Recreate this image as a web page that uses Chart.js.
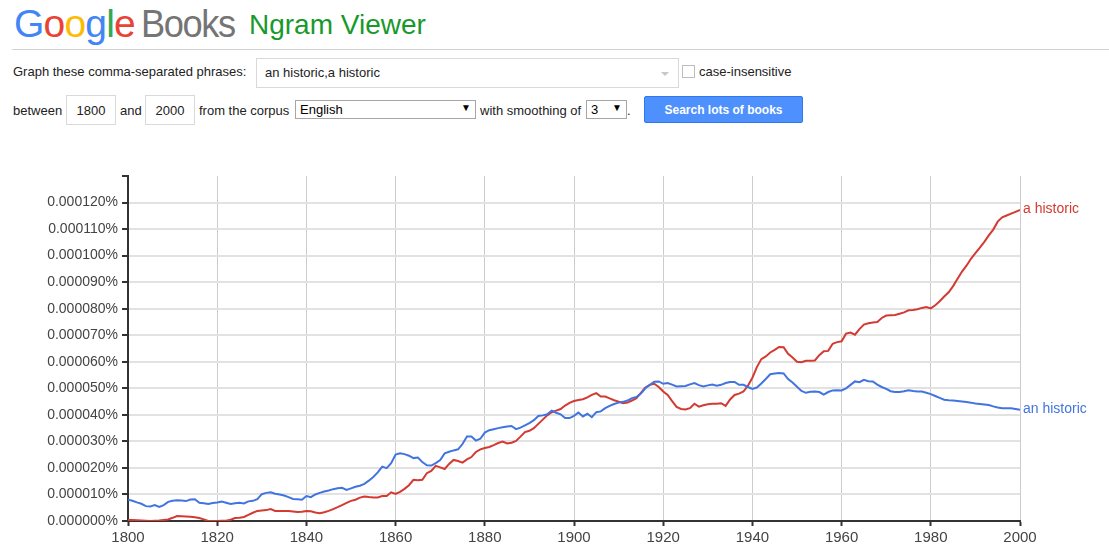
<!DOCTYPE html>
<html>
<head>
<meta charset="utf-8">
<script src="https://cdn.jsdelivr.net/npm/chart.js@4/dist/chart.umd.min.js"></script>
<style>
  html, body { margin:0; padding:0; background:#fff; width:1109px; height:557px; overflow:hidden; }
  body { font-family: "Liberation Sans", Arial, sans-serif; color:#222; position:relative; }
  .abs { position:absolute; white-space:nowrap; }
  .lbl { font-size:13px; line-height:16px; color:#222; }
  .box { position:absolute; background:#fff; border:1px solid #d9d9d9; box-sizing:border-box; }
  .sel { position:absolute; background:#fff; border:1px solid #a6a6a6; box-sizing:border-box; font-size:13px; line-height:17px; padding-left:4px; color:#000; }
  .arrow { position:absolute; font-size:10px; color:#000; }
  #wrap { position:absolute; left:0; top:160px; width:1109px; height:397px; }
</style>
</head>
<body>
  <!-- header -->
  <div class="abs" style="left:14px; top:1px; font-size:39px; line-height:46px; letter-spacing:-0.8px;">
    <span style="color:#4285F4">G</span><span style="color:#EA4335">o</span><span style="color:#FBBC05">o</span><span style="color:#4285F4">g</span><span style="color:#34A853">l</span><span style="color:#EA4335">e</span>
  </div>
  <div class="abs" style="left:141px; top:1px; font-size:39px; line-height:46px; letter-spacing:-1.5px; color:#757575; transform:scaleX(0.93); transform-origin:left center;">Books</div>
  <div class="abs" style="left:249px; top:7px; font-size:28px; line-height:36px; color:#18992b;">Ngram Viewer</div>
  <div class="abs" style="left:12px; top:49px; width:1097px; height:1px; background:#d3d3d3;"></div>

  <!-- row 1 -->
  <div class="abs lbl" style="left:13px; top:64px;">Graph these comma-separated phrases:</div>
  <div class="box" style="left:256px; top:58px; width:423px; height:30px;"></div>
  <div class="abs lbl" style="left:265px; top:65px; color:#222;">an historic,a historic</div>
  <div class="abs" style="left:661px; top:72px; width:0; height:0; border-left:4px solid transparent; border-right:4px solid transparent; border-top:4px solid #c8c8c8;"></div>
  <div class="box" style="left:682px; top:65px; width:13px; height:13px; border-color:#bdbdbd;"></div>
  <div class="abs lbl" style="left:699px; top:64px;">case-insensitive</div>

  <!-- row 2 -->
  <div class="abs lbl" style="left:13px; top:103px;">between</div>
  <div class="box" style="left:66px; top:95px; width:50px; height:30px;"></div>
  <div class="abs lbl" style="left:66px; top:103px; width:50px; text-align:center;">1800</div>
  <div class="abs lbl" style="left:120px; top:103px;">and</div>
  <div class="box" style="left:145px; top:95px; width:50px; height:30px;"></div>
  <div class="abs lbl" style="left:145px; top:103px; width:50px; text-align:center;">2000</div>
  <div class="abs lbl" style="left:199px; top:103px;">from the corpus</div>
  <div class="sel" style="left:295px; top:100px; width:181px; height:19px;">English</div>
  <div class="arrow abs" style="left:461px; top:102px;">&#9660;</div>
  <div class="abs lbl" style="left:480px; top:103px;">with smoothing of</div>
  <div class="sel" style="left:586px; top:100px; width:41px; height:19px;">3</div>
  <div class="arrow abs" style="left:612px; top:102px;">&#9660;</div>
  <div class="abs lbl" style="left:627px; top:103px;">.</div>
  <div class="abs" style="left:644px; top:96px; width:159px; height:27px; background:#4d90fe; border:1px solid #3079ed; box-sizing:border-box; border-radius:2px; color:#fff; font-weight:bold; font-size:12px; line-height:27px; text-align:center;">Search lots of books</div>

  <div id="wrap"><canvas id="c" width="1109" height="397"></canvas></div>

<script>
// ---- data (values in units of 0.000001 %) ----
const years = [
1800,1801,1802,1803,1804,1805,1806,1807,1808,1809,
1810,1811,1812,1813,1814,1815,1816,1817,1818,1819,
1820,1821,1822,1823,1824,1825,1826,1827,1828,1829,
1830,1831,1832,1833,1834,1835,1836,1837,1838,1839,
1840,1841,1842,1843,1844,1845,1846,1847,1848,1849,
1850,1851,1852,1853,1854,1855,1856,1857,1858,1859,
1860,1861,1862,1863,1864,1865,1866,1867,1868,1869,
1870,1871,1872,1873,1874,1875,1876,1877,1878,1879,
1880,1881,1882,1883,1884,1885,1886,1887,1888,1889,
1890,1891,1892,1893,1894,1895,1896,1897,1898,1899,
1900,1901,1902,1903,1904,1905,1906,1907,1908,1909,
1910,1911,1912,1913,1914,1915,1916,1917,1918,1919,
1920,1921,1922,1923,1924,1925,1926,1927,1928,1929,
1930,1931,1932,1933,1934,1935,1936,1937,1938,1939,
1940,1941,1942,1943,1944,1945,1946,1947,1948,1949,
1950,1951,1952,1953,1954,1955,1956,1957,1958,1959,
1960,1961,1962,1963,1964,1965,1966,1967,1968,1969,
1970,1971,1972,1973,1974,1975,1976,1977,1978,1979,
1980,1981,1982,1983,1984,1985,1986,1987,1988,1989,
1990,1991,1992,1993,1994,1995,1996,1997,1998,1999,
2000];

const anHistoric = [
8.0,7.6,7.0,6.5,5.6,5.5,6.0,5.3,6.0,7.2,
7.6,7.8,7.7,7.5,8.1,8.2,6.9,6.7,6.4,6.8,
7.0,7.3,6.9,6.4,6.7,6.9,6.6,7.4,7.6,8.2,
10.1,10.6,10.8,10.3,10.0,9.6,9.0,8.3,8.2,8.0,
9.4,9.0,10.0,10.6,11.1,11.5,12.0,12.3,12.5,11.7,
12.3,12.9,13.3,14.0,15.2,16.6,18.3,20.5,19.9,21.8,
25.0,25.5,25.2,24.6,23.7,23.9,22.2,21.0,20.9,21.8,
23.0,25.5,26.1,26.6,27.0,29.0,31.8,31.8,30.3,31.0,
33.3,34.2,34.6,35.0,35.3,35.6,35.8,34.6,35.2,36.0,
36.9,38.0,39.6,39.8,40.2,41.6,40.8,40.2,38.8,38.8,
39.6,40.9,39.4,40.4,39.1,41.0,41.3,42.5,43.4,44.1,
44.6,44.9,45.4,46.3,46.7,48.0,50.0,51.3,52.5,52.6,
51.7,52.0,51.4,50.7,50.8,50.9,51.5,52.0,51.2,50.7,
51.1,51.4,51.0,51.3,52.0,52.4,52.4,51.3,51.3,50.5,
49.8,50.3,51.8,53.5,55.3,55.6,55.8,55.6,53.5,52.2,
50.6,49.0,48.3,48.7,48.8,48.6,47.6,48.6,49.2,49.3,
49.2,50.0,51.3,52.6,52.3,53.2,52.7,52.6,51.4,50.5,
49.8,48.9,48.6,48.6,48.9,49.3,49.0,48.8,48.8,48.3,
47.8,47.1,46.4,45.7,45.5,45.4,45.2,45.0,44.8,44.6,
44.3,44.1,43.9,43.7,43.2,42.8,42.5,42.5,42.5,42.2,
41.9];

const aHistoric = [
0.4,0.4,0.3,0.2,0.1,0.0,0.1,0.2,0.4,0.6,
1.2,1.9,1.8,1.7,1.6,1.4,1.1,0.6,0.0,0.0,
0.0,0.1,0.1,0.5,1.1,1.2,1.5,2.3,3.1,3.8,
4.0,4.1,4.5,3.8,3.8,3.8,3.8,3.6,3.4,3.5,
3.8,3.7,3.2,2.9,3.3,3.8,4.5,5.2,6.0,6.8,
7.6,8.0,8.8,9.2,9.0,8.9,8.9,9.4,9.4,10.8,
10.2,11.0,12.1,13.5,15.5,15.4,15.5,18.0,18.9,20.8,
20.2,19.6,21.5,23.0,22.6,22.0,23.2,24.1,26.0,27.0,
27.5,27.9,28.6,29.4,29.9,29.2,29.5,30.2,31.8,33.5,
34.0,35.0,36.6,38.2,39.8,41.0,41.6,42.2,43.5,44.5,
45.2,45.6,45.9,46.6,47.5,48.2,46.9,46.9,46.2,45.5,
45.0,44.4,44.6,45.4,46.3,48.3,50.3,51.3,51.7,50.5,
48.8,47.5,45.2,43.0,42.2,42.0,42.5,44.2,43.1,43.6,
44.0,44.2,44.2,44.4,43.4,45.8,47.5,48.0,48.8,51.0,
54.0,58.0,61.0,62.0,63.5,64.5,65.6,65.5,63.0,61.6,
60.0,59.8,60.4,60.4,60.5,62.5,64.0,64.1,66.8,67.4,
67.7,70.6,71.0,70.2,72.3,74.0,74.5,74.8,75.0,76.5,
77.4,77.5,77.6,78.1,78.6,79.4,79.5,79.8,80.3,80.6,
80.1,81.3,82.8,84.6,86.2,88.5,91.3,94.0,96.2,98.8,
100.9,103.0,105.2,107.6,109.8,112.8,114.4,115.1,115.8,116.5,
117.2];

const seriesNames = ["an historic", "a historic"];
const seriesColors = ["#4274e0", "#d33a31"];
const xTicks = [1800,1820,1840,1860,1880,1900,1920,1940,1960,1980,2000];
const yTicks = [0,10,20,30,40,50,60,70,80,90,100,110,120];
const yTop = 130;

const toPoints = arr => years.map((yr, i) => ({x: yr, y: arr[i]}));

const endLabels = {
  id: 'endLabels',
  afterDatasetsDraw(chart) {
    const ctx = chart.ctx;
    ctx.save();
    ctx.font = '14px "Liberation Sans", Arial, sans-serif';
    ctx.textBaseline = 'middle';
    ctx.textAlign = 'left';
    chart.data.datasets.forEach((ds, i) => {
      const meta = chart.getDatasetMeta(i);
      const p = meta.data[meta.data.length - 1];
      ctx.fillStyle = ds.borderColor;
      ctx.fillText(ds.label, p.x + 3, p.y - 1);
    });
    ctx.restore();
  }
};

new Chart(document.getElementById('c'), {
  type: 'line',
  data: {
    datasets: [
      { label: seriesNames[0], data: toPoints(anHistoric), borderColor: seriesColors[0], borderWidth: 2, pointRadius: 0, tension: 0, fill: false },
      { label: seriesNames[1], data: toPoints(aHistoric), borderColor: seriesColors[1], borderWidth: 2, pointRadius: 0, tension: 0, fill: false }
    ]
  },
  options: {
    responsive: false,
    animation: false,
    devicePixelRatio: 1,
    layout: { padding: { top: 16, right: 89, bottom: 0, left: 0 } },
    plugins: { legend: { display: false }, tooltip: { enabled: false } },
    scales: {
      x: {
        type: 'linear', min: 1800, max: 2000,
        afterBuildTicks: s => { s.ticks = xTicks.map(v => ({value: v})); },
        afterFit: s => { s.height = 36; },
        ticks: { color: '#444', font: { family: '"Liberation Sans", Arial, sans-serif', size: 15 }, padding: 3, maxRotation: 0, autoSkip: false, callback: v => String(v) },
        grid: { color: '#cccccc', lineWidth: 1, tickLength: 5, tickColor: '#333', tickWidth: 2 },
        border: { color: '#333', width: 2 }
      },
      y: {
        min: 0, max: yTop,
        afterBuildTicks: s => { s.ticks = yTicks.concat([yTop]).map(v => ({value: v})); },
        afterFit: s => { s.width = 128; },
        ticks: { color: '#444', font: { family: '"Liberation Sans", Arial, sans-serif', size: 14 }, padding: 4, autoSkip: false,
          callback: v => v === yTop ? '' : (v / 1e6).toFixed(6) + '%' },
        grid: { color: c => (c.tick && c.tick.value === yTop) ? 'rgba(0,0,0,0)' : '#e2e2e2', lineWidth: 2, tickLength: 6, tickColor: '#333', tickWidth: 2 },
        border: { color: '#333', width: 2 }
      }
    }
  },
  plugins: [endLabels]
});
</script>
</body>
</html>
